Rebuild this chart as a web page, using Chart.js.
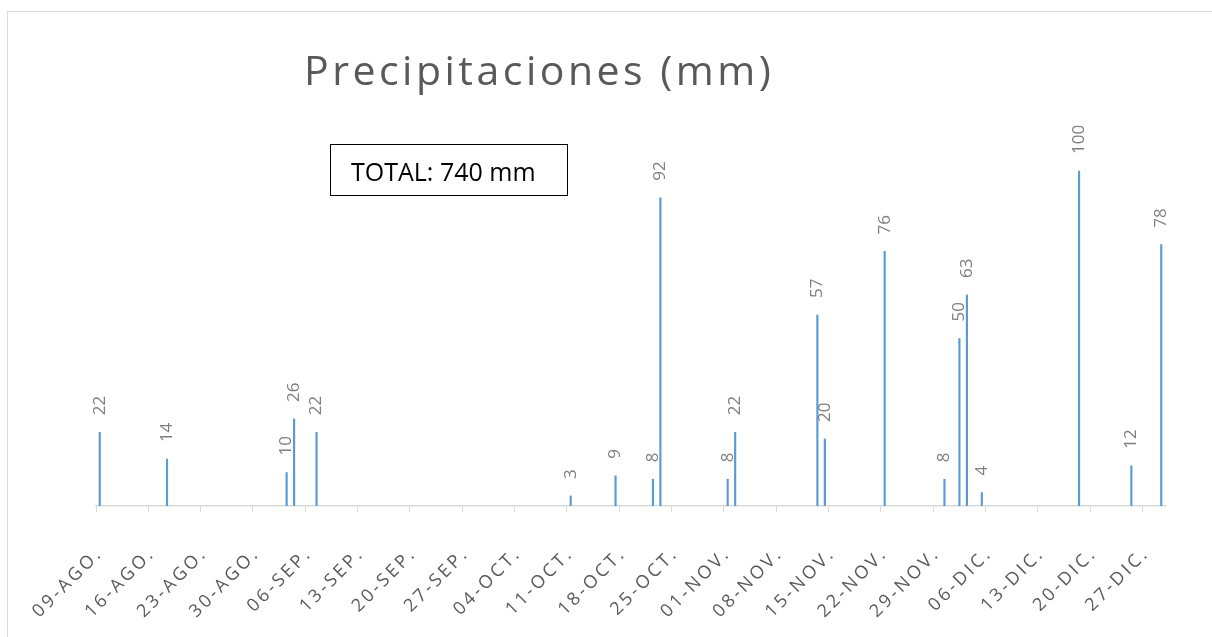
<!doctype html>
<html>
	<head>
		<title>Precipitaciones</title>
		<meta charset="utf-8">
		<script src="https://cdnjs.cloudflare.com/ajax/libs/Chart.js/4.4.1/chart.umd.min.js"></script>
		<style>
			body { margin: 0; background: #fff; }
			#wrap { position: relative; width: 1212px; height: 637px; overflow: hidden; }
			#frame { position: absolute; left: 7px; top: 11px; width: 1400px; height: 800px; border: 1px solid #d9d9d9; }
			#titulo { position: absolute; left: 304px; top: 41px; font-family: "Open Sans"; font-size: 41px; color: #595959; letter-spacing: 3.5px; white-space: nowrap; }
			#total { position: absolute; left: 330px; top: 144px; width: 216px; height: 47px; border: 1.5px solid #000; font-family: "Open Sans"; font-size: 25px; color: #000; line-height: 47px; padding-left: 20px; padding-top: 3px; box-sizing: content-box; white-space: nowrap; }
			canvas { position: absolute; left: 0; top: 0; }
		</style>
	</head>
	<body>
		<div id="wrap">
			<div id="frame"></div>
			<canvas id="canvas" width="1212" height="637"></canvas>
			<div id="titulo">Precipitaciones (mm)</div>
			<div id="total">TOTAL: 740 mm</div>
		</div>

<script>
			// dias con lluvia (mes 1-12, dia) y milimetros
			var rainDates = [
				[8, 9], [8, 18], [9, 3], [9, 4], [9, 7],
				[10, 11], [10, 17], [10, 22], [10, 23], [11, 1], [11, 2],
				[11, 13], [11, 14], [11, 22], [11, 30], [12, 2], [12, 3], [12, 5],
				[12, 18], [12, 25], [12, 29]
			];
			var rainMm = [22, 14, 10, 26, 22, 3, 9, 8, 92, 8, 22, 57, 20, 76, 8, 50, 63, 4, 100, 12, 78];

			var axisStart = [8, 9];
			var axisEnd = [12, 29];
			var meses = ['ENE','FEB','MAR','ABR','MAY','JUN','JUL','AGO','SEP','OCT','NOV','DIC'];

			var labels = [];
			var values = [];
			var d = new Date(2021, axisStart[0] - 1, axisStart[1], 12);
			var fin = new Date(2021, axisEnd[0] - 1, axisEnd[1], 12);
			while (d <= fin) {
				var dd = ('0' + d.getDate()).slice(-2);
				labels.push(dd + '-' + meses[d.getMonth()] + '.');
				var v = null;
				for (var k = 0; k < rainDates.length; k++) {
					if (rainDates[k][0] == d.getMonth() + 1 && rainDates[k][1] == d.getDate()) v = rainMm[k];
				}
				values.push(v);
				d.setDate(d.getDate() + 1);
			}

			var valueLabels = {
				id: 'valueLabels',
				afterDatasetsDraw: function(chart) {
					var ctx = chart.ctx;
					var meta = chart.getDatasetMeta(0);
					ctx.save();
					ctx.letterSpacing = '0px';
					ctx.font = '17px "Open Sans"';
					ctx.fillStyle = '#7f7f7f';
					ctx.textAlign = 'left';
					ctx.textBaseline = 'middle';
					meta.data.forEach(function(bar, i) {
						var v = values[i];
						if (v === null) return;
						ctx.save();
						ctx.translate(bar.x, bar.y - 17);
						ctx.rotate(-Math.PI / 2);
						ctx.fillText(String(v), 0, 0);
						ctx.restore();
					});
					ctx.restore();
				}
			};

			var spacing = {
				id: 'spacing',
				beforeDraw: function(chart) { chart.ctx.letterSpacing = '3px'; }
			};

			new Chart(document.getElementById('canvas'), {
				type: 'bar',
				data: {
					labels: labels,
					datasets: [{
						data: values,
						backgroundColor: '#5B9BD5',
						barThickness: 1.5
					}]
				},
				options: {
					responsive: false,
					animation: false,
					layout: { padding: { left: 96, right: 47, top: 104, bottom: 0 } },
					plugins: { legend: { display: false }, tooltip: { enabled: false } },
					scales: {
						x: {
							offset: true,
							afterFit: function(scale) { scale.height = 131; },
							border: { display: true, color: '#d9d9d9', width: 1.5 },
							grid: {
								offset: true,
								drawOnChartArea: false,
								drawTicks: true,
								tickLength: 6,
								color: function(c) { return c.index % 7 === 0 ? '#d9d9d9' : 'rgba(0,0,0,0)'; }
							},
							ticks: {
								autoSkip: false,
								minRotation: 45,
								maxRotation: 45,
								padding: 31,
								color: '#595959',
								font: { family: 'Open Sans', size: 18 },
								callback: function(val, i) { return i % 7 === 0 ? labels[i] : ''; }
							}
						},
						y: { display: false, min: 0, max: 120 }
					}
				},
				plugins: [valueLabels, spacing]
			});
		</script>
	</body>
</html>
